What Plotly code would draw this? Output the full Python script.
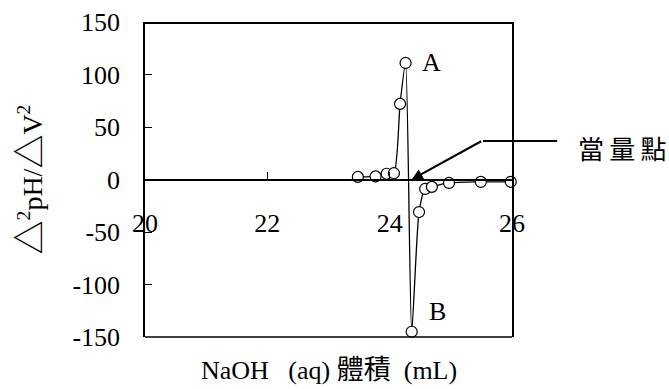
import plotly.graph_objects as go

# Data
volume_ml = [23.48, 23.77, 23.95, 24.07, 24.17, 24.26, 24.36, 24.48, 24.58, 24.69, 24.97, 25.49, 25.98]
d2ph_dv2 = [2.5, 3, 5.5, 6, 72, 111, -145, -31, -9, -7, -3.3, -2.3, -2.2]

x_ticks = [20, 22, 24, 26]
y_ticks = [-150, -100, -50, 0, 50, 100, 150]
x_range = [20, 26]
y_range = [-150, 150]

SERIF = "Liberation Serif"
CJK = "Noto Sans CJK TC"

def cjk(s, size):
    return f'<span style="font-family:{CJK};font-size:{size}px">{s}</span>'

y_title = (cjk("△", 34) + "<sup>2</sup>pH/" + cjk("△", 34) + "V<sup>2</sup>")
x_title = ("NaOH\u00a0\u00a0\u00a0(aq)\u00a0" + cjk("體積", 27) + "\u00a0\u00a0(mL)")

fig = go.Figure()
fig.add_trace(go.Scatter(
    x=volume_ml, y=d2ph_dv2,
    mode="lines+markers",
    line=dict(color="black", width=1.3, shape="spline", smoothing=0.6),
    marker=dict(symbol="circle", size=11, color="white",
                line=dict(color="black", width=1.2)),
    showlegend=False,
    cliponaxis=False,
))

tickfont = dict(family=SERIF, size=26, color="black")
frame = dict(color="black", width=2)
fig.update_layout(
    width=669, height=389,
    margin=dict(l=145, r=157, t=22, b=52, autoexpand=False),
    paper_bgcolor="white", plot_bgcolor="white",
    xaxis=dict(
        range=x_range, anchor="free", position=0.5, side="bottom",
        tickvals=x_ticks, ticktext=[str(v) for v in x_ticks],
        showline=True, linecolor="black", linewidth=1.5,
        ticks="inside", ticklen=7, tickwidth=1.2, tickcolor="black",
        showgrid=False, zeroline=False,
        tickfont=tickfont, ticklabelstandoff=21,
    ),
    yaxis=dict(
        range=y_range, tickvals=y_ticks, ticktext=[str(v) for v in y_ticks],
        showline=True, mirror=True, linecolor="black", linewidth=1.5,
        ticks="inside", ticklen=7, tickwidth=1.2, tickcolor="black",
        showgrid=False, zeroline=False,
        tickfont=tickfont, ticklabelstandoff=18,
        title=dict(text=y_title,
                   font=dict(family=SERIF, size=28, color="black"), standoff=22),
    ),
    shapes=[
        dict(type="line", xref="paper", yref="paper", x0=0, x1=1, y0=0.997, y1=0.997,
             line=frame, layer="above"),
        dict(type="line", xref="paper", yref="paper", x0=0, x1=1, y0=0, y1=0,
             line=dict(color="black", width=1.5), layer="above"),
        dict(type="line", xref="paper", yref="paper", x0=0.921, x1=1.123, y0=0.622, y1=0.622,
             line=dict(color="black", width=2)),
    ],
    annotations=[
        dict(x=24.36, y=0, xref="x", yref="y", text="", showarrow=True,
             ax=71, ay=-39, arrowhead=2, arrowsize=1, arrowwidth=2.2, arrowcolor="black"),
        dict(x=1.2997, y=0.603, xref="paper", yref="paper", xanchor="center", yanchor="middle",
             text="當\u2009量\u2009點", showarrow=False,
             font=dict(family=CJK, size=26, color="black")),
        dict(x=24.69, y=111, xref="x", yref="y", text="A", showarrow=False,
             font=dict(family=SERIF, size=26, color="black")),
        dict(x=24.79, y=-126, xref="x", yref="y", text="B", showarrow=False,
             font=dict(family=SERIF, size=26, color="black")),
        dict(x=0.5, y=-0.097, xref="paper", yref="paper", xanchor="center", yanchor="middle",
             text=x_title, showarrow=False,
             font=dict(family=SERIF, size=26, color="black")),
    ],
)

fig.write_html("out.html", config={"displayModeBar": False},
               post_script="document.body.style.margin='0';")
